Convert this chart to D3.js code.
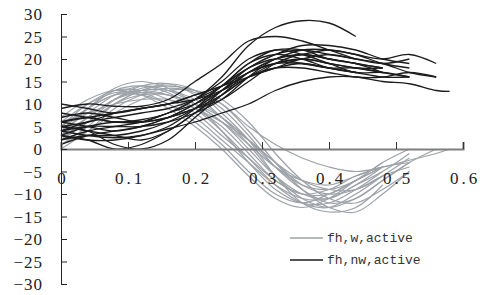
<!DOCTYPE html>
<html>
<head>
<meta charset="utf-8">
<script src="https://cdn.jsdelivr.net/npm/d3@7"></script>
<style>
  body { margin: 0; background: #fff; }
  svg { display: block; }
</style>
</head>
<body>
<svg id="chart" width="483" height="295"></svg>
<script>
// x positions shared by every curve (a curve stops where its values stop)
const xGrid = [0, 0.04, 0.08, 0.12, 0.16, 0.2, 0.24, 0.28, 0.32, 0.36, 0.4, 0.44, 0.48, 0.52, 0.56, 0.58];

// fh,w,active (grey)
const grayCurves = [
  [3, 9, 13.5, 15, 13.5, 10, 4, -3, -9, -12, -12, -9, -5],
  [2, 6, 11, 14, 14.5, 12, 7, 1, -6, -11, -13, -11, -7, -3],
  [6, 10, 12.5, 12.5, 10, 6, 1, -5, -10, -12, -10, -7, -4],
  [0, 4, 9, 12, 13.5, 12.5, 9, 3, -4, -9, -12, -11, -7, -3, 0],
  [4, 8, 12, 14, 13, 10, 6, 0, -6, -10, -11, -8, -5, -1],
  [5, 9, 12, 12, 10, 7, 2, -3, -8, -11, -11, -8, -4],
  [1, 5, 10, 13, 14.5, 13, 8, 2, -6, -12, -14, -13, -8],
  [3, 7, 11, 13.5, 14, 13, 10, 5, 1, -2, -4, -5, -4, -2.5, -1, 0],
  [2, 7, 11, 13, 13, 11, 7, 2, -4, -8, -9, -7, -3, 0],
  [5, 10, 13, 13, 11, 8, 3, -2, -7, -10, -10, -7, -4],
  [3, 6, 10, 13, 14, 13, 10, 4, -3, -9, -13, -14, -10, -5],
  [7, 11, 13, 12, 9, 5, 0, -6, -11, -13, -11, -7, -3],
  [1, 4, 8, 11, 13, 13, 11, 6, -1, -7, -11, -12, -9, -5],
  [4, 9, 12, 13, 12, 9, 5, -1, -7, -10, -9, -6, -4],
  [2, 6, 10, 12, 12, 10, 6, 1, -4, -7, -8, -6, -4, -3],
  [5, 9, 13, 14, 12.5, 9, 4, -2, -8, -12, -13, -10, -6, -2],
  [3, 7, 11, 12.5, 12, 10, 7, 2, -3, -7, -9, -9, -6],
  [6, 8, 10, 11, 11, 9, 6, 2, -3, -8, -10, -9, -6, -4]
];

// fh,nw,active (black)
const blackCurves = [
  [9, 10, 9.5, 9.5, 11, 15, 19, 24, 25, 24, 22, 20],
  [6, 7, 6, 6.5, 8, 11, 16, 23, 27, 28.5, 28, 25],
  [4, 3, 2.5, 3, 4.5, 6, 8, 10, 13, 15, 16, 16, 15, 14.5, 13, 12.8],
  [5, 4, 1, 0, 2, 7, 12, 17, 20, 21, 20, 19, 18],
  [3, 2, 0, 1, 4, 8, 13, 18, 21, 22, 21, 20, 19, 20],
  [2, 4, 5, 6, 8, 10, 13, 17, 20, 22, 22, 21, 19, 18],
  [7, 8, 7, 6, 7, 9, 12, 16, 19, 20, 19, 18, 18],
  [4, 6, 7, 8, 9, 11, 14, 18, 21, 23, 23, 22, 20, 19],
  [3, 5, 6, 6, 7, 9, 11, 15, 19, 21, 20, 19, 17],
  [6, 5, 4, 5, 7, 10, 14, 19, 22, 21, 19, 17, 17, 16],
  [8, 7, 6, 6, 8, 11, 15, 20, 22, 22, 20, 19, 18],
  [2, 3, 3, 4, 6, 9, 13, 17, 19, 19, 18, 17, 16, 16],
  [5, 6, 8, 9, 10, 12, 14, 17, 19, 20, 21, 20, 19, 17, 16],
  [10, 9, 8, 9, 10, 12, 14, 16, 18, 19, 18, 17],
  [4, 5, 5, 5, 6, 8, 11, 16, 20, 21, 22, 21, 20, 21, 19],
  [3, 2, 2, 3, 5, 9, 14, 18, 20, 19, 18, 18, 17],
  [6, 7, 8, 9, 10, 11, 13, 16, 18, 20, 19, 18, 17, 16],
  [1, 3, 4, 5, 7, 10, 14, 19, 21, 20, 18, 17],
  [5, 4, 3, 2, 4, 8, 12, 16, 18, 18, 17, 16, 16, 17, 16]
];

const xTicks = [0, 0.1, 0.2, 0.3, 0.4, 0.5, 0.6];
const yTicks = [-30, -25, -20, -15, -10, -5, 0, 5, 10, 15, 20, 25, 30];
const legendLabels = ["fh,w,active", "fh,nw,active"];
const legendColors = ["#9ca2a8", "#1c1c1c"];

var svg = d3.select("#chart");

var x = d3.scaleLinear().domain([0, 0.6]).range([61, 463]);
var y = d3.scaleLinear().domain([-30, 30]).range([284, 14]);

// curves
var line = d3.line()
  .x((d, i) => x(xGrid[i]))
  .y(d => y(d))
  .curve(d3.curveCatmullRom.alpha(0.5));

svg.append("g")
  .selectAll("path")
  .data(grayCurves)
  .enter()
  .append("path")
  .attr("d", line)
  .attr("fill", "none")
  .attr("stroke", legendColors[0])
  .attr("stroke-width", 1.2);

svg.append("g")
  .selectAll("path")
  .data(blackCurves)
  .enter()
  .append("path")
  .attr("d", line)
  .attr("fill", "none")
  .attr("stroke", legendColors[1])
  .attr("stroke-width", 1.3);

// x axis on y = 0, ticks pointing up, labels well below
var xAxis = svg.append("g")
  .attr("transform", `translate(0, ${y(0)})`)
  .call(d3.axisTop(x).tickValues(xTicks.slice(1)).tickSize(7).tickFormat(""));
xAxis.select(".domain").attr("stroke", "#7f7f7f").attr("stroke-width", 2.2);
xAxis.selectAll(".tick line").attr("stroke", "#333");

svg.append("g")
  .selectAll("text")
  .data(xTicks)
  .enter()
  .append("text")
  .attr("x", d => x(d) + 2)
  .attr("y", y(0) + 35)
  .attr("text-anchor", "middle")
  .attr("font-family", "Liberation Serif, serif")
  .attr("font-size", 17)
  .attr("letter-spacing", 3)
  .attr("fill", "#222")
  .text(d => d === 0 ? "0" : d3.format(".1f")(d));

// y axis, ticks pointing right
var yAxis = svg.append("g")
  .attr("transform", `translate(${x(0)}, 0)`)
  .call(d3.axisRight(y).tickValues(yTicks).tickSize(6).tickFormat(""));
yAxis.select(".domain").attr("stroke", "#222");
yAxis.selectAll(".tick line").attr("stroke", "#222");

svg.append("g")
  .selectAll("text")
  .data(yTicks)
  .enter()
  .append("text")
  .attr("x", 43)
  .attr("y", d => y(d) + 6)
  .attr("text-anchor", "end")
  .attr("font-family", "Liberation Serif, serif")
  .attr("font-size", 17)
  .attr("letter-spacing", 1)
  .attr("fill", "#222")
  .text(d => d3.format("d")(d));

// legend
var legend = svg.append("g")
  .selectAll("g")
  .data(legendLabels)
  .enter()
  .append("g")
  .attr("transform", (d, i) => `translate(290, ${238 + i * 22})`);

legend.append("line")
  .attr("x1", 0)
  .attr("x2", 33)
  .attr("stroke", (d, i) => legendColors[i])
  .attr("stroke-width", (d, i) => i ? 1.6 : 1.3);

legend.append("text")
  .attr("x", 37)
  .attr("y", 4)
  .attr("font-family", "Liberation Mono, monospace")
  .attr("font-size", 13)
  .attr("fill", "#333")
  .text(d => d);
</script>
</body>
</html>
